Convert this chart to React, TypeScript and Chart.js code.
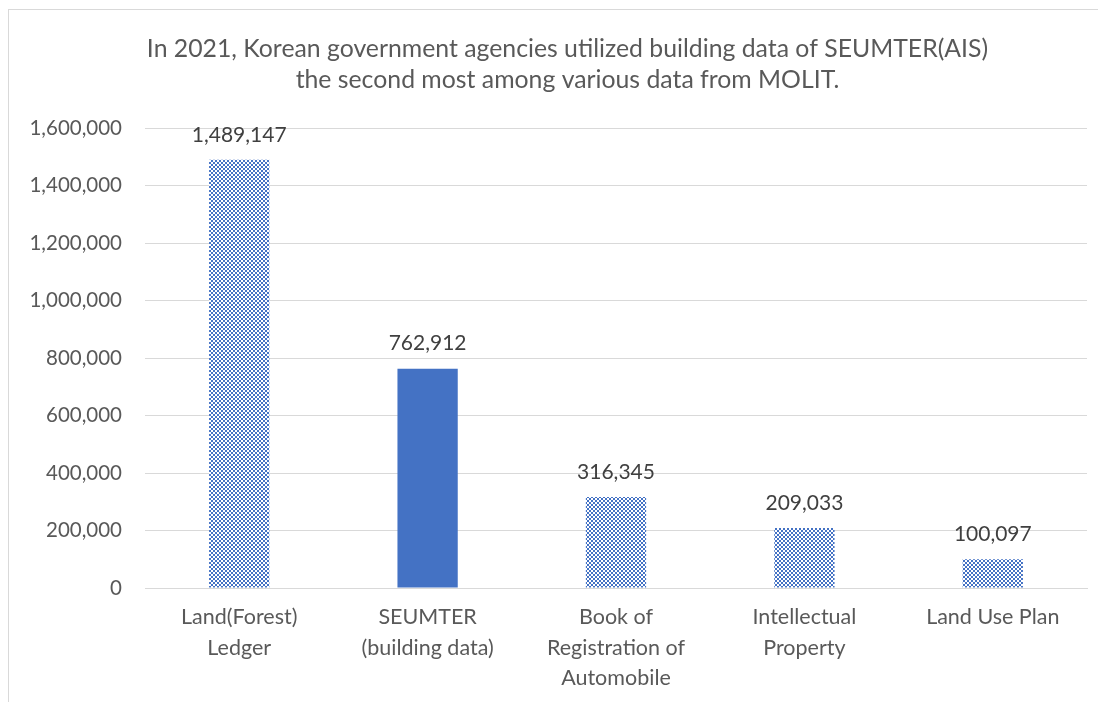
import React, { useEffect, useRef } from "react";
import { Chart, registerables } from "chart.js";

Chart.register(...registerables);

const categories: string[][] = [
  ["Land(Forest)", "Ledger"],
  ["SEUMTER", "(building data)"],
  ["Book of", "Registration of", "Automobile"],
  ["Intellectual", "Property"],
  ["Land Use Plan"],
];
const values: number[] = [1489147, 762912, 316345, 209033, 100097];
const titleLines: string[] = [
  "In 2021, Korean government agencies utilized building data of SEUMTER(AIS)",
  "the second most among various data from MOLIT.",
];
const yMax = 1600000;
const yStep = 200000;

const BLUE = "#4472C4";
const FONT = "Lato";

function makePattern(ctx: CanvasRenderingContext2D): CanvasPattern | string {
  const c = document.createElement("canvas");
  c.width = 4;
  c.height = 4;
  const p = c.getContext("2d");
  if (!p) return BLUE;
  p.fillStyle = "#ffffff";
  p.fillRect(0, 0, 4, 4);
  p.fillStyle = BLUE;
  p.fillRect(0, 0, 2, 2);
  p.fillRect(2, 2, 2, 2);
  return ctx.createPattern(c, "repeat") || BLUE;
}

const valueLabels = {
  id: "valueLabels",
  afterDatasetsDraw(chart: any) {
    const ctx = chart.ctx;
    const meta = chart.getDatasetMeta(0);
    ctx.save();
    ctx.font = `21px ${FONT}`;
    ctx.fillStyle = "#404040";
    ctx.textAlign = "center";
    ctx.textBaseline = "middle";
    meta.data.forEach((bar: any, i: number) => {
      const v = chart.data.datasets[0].data[i] as number;
      ctx.fillText(v.toLocaleString("en-US"), bar.x, bar.y - 25);
    });
    ctx.restore();
  },
};

const centeredTitle = {
  id: "centeredTitle",
  afterDraw(chart: any) {
    const ctx = chart.ctx;
    ctx.save();
    ctx.font = `24.8px ${FONT}`;
    ctx.fillStyle = "#595959";
    ctx.textAlign = "center";
    ctx.textBaseline = "middle";
    titleLines.forEach((line, i) => {
      ctx.fillText(line, chart.width / 2, 39 + i * 31);
    });
    ctx.restore();
  },
};

export default function App() {
  const ref = useRef<HTMLCanvasElement>(null);
  useEffect(() => {
    const canvas = ref.current;
    if (!canvas) return;
    const ctx = canvas.getContext("2d")!;
    const pattern = makePattern(ctx);
    const colors = values.map((_, i) => (i === 1 ? BLUE : pattern));
    const chart = new Chart(canvas, {
      type: "bar",
      data: {
        labels: categories,
        datasets: [
          {
            data: values,
            backgroundColor: colors as any,
            borderWidth: 0,
            barPercentage: 0.32,
            categoryPercentage: 1,
          },
        ],
      },
      plugins: [valueLabels, centeredTitle],
      options: {
        animation: false,
        responsive: false,
        maintainAspectRatio: false,
        layout: { padding: { left: 0, right: 39, top: 118, bottom: 0 } },
        plugins: {
          legend: { display: false },
          tooltip: { enabled: false },
          title: { display: false },
        },
        scales: {
          x: {
            grid: { display: false, drawTicks: false },
            border: { display: true, color: "#d9d9d9", width: 1 },
            ticks: {
              color: "#595959",
              font: { family: FONT, size: 21.5, lineHeight: 1.42 },
              padding: 14,
              maxRotation: 0,
              autoSkip: false,
            },
            afterFit: (scale: any) => {
              scale.height = 122;
            },
          },
          y: {
            min: 0,
            max: yMax,
            grid: { color: "#d9d9d9", drawTicks: false, lineWidth: 1 },
            border: { display: false },
            ticks: {
              stepSize: yStep,
              color: "#595959",
              font: { family: FONT, size: 20.5 },
              padding: 23,
              callback: (v: any) => Number(v).toLocaleString("en-US"),
            },
            afterFit: (scale: any) => {
              scale.width = 136;
            },
          },
        },
      },
    });
    return () => chart.destroy();
  }, []);

  return (
    <div style={{ width: 1098, height: 694, overflow: "hidden" }}>
      <div
        style={{
          marginTop: 1,
          width: 1140,
          height: 720,
          border: "1px solid #d9d9d9",
          boxSizing: "border-box",
          background: "#fff",
        }}
      >
        <canvas ref={ref} width={1117} height={700} style={{ display: "block" }} />
      </div>
    </div>
  );
}
